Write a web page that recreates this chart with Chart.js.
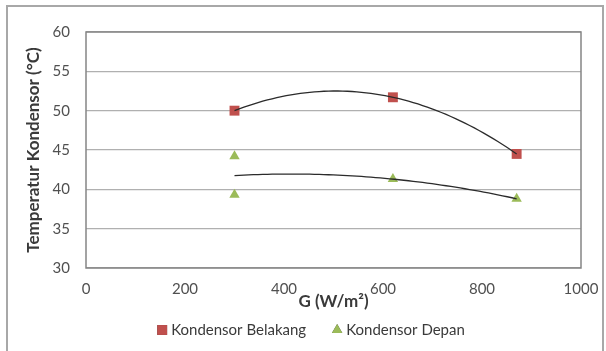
<!DOCTYPE html>
<html>
<head>
<meta charset="utf-8">
<script src="https://cdn.jsdelivr.net/npm/chart.js@4.4.1/dist/chart.umd.min.js"></script>
<style>
  html, body { margin: 0; padding: 0; background: #fff; }
  #wrap { width: 606px; height: 351px; position: relative; }
</style>
</head>
<body>
<div id="wrap"><canvas id="kondensorChart"></canvas></div>
<script>
// irradiance G (W/m2) and condenser temperatures (degC)
const gBelakang = [300, 620, 870];
const tBelakang = [50.0, 51.7, 44.5];
const gDepan = [300, 300, 620, 870];
const tDepan = [44.2, 39.3, 41.3, 38.8];

const yTicks = [30, 35, 40, 45, 50, 55, 60];
const xTicks = [0, 200, 400, 600, 800, 1000];

const FONT = "'Lato', 'Open Sans', sans-serif";
const TEXT = '#3a3a3a';

function toPoints(xs, ys) {
  return xs.map((x, i) => ({ x: x, y: ys[i] }));
}

// least squares fit y = a + b x + c x^2
function polyfit2(pts) {
  let s = [0, 0, 0, 0, 0], t = [0, 0, 0];
  pts.forEach(p => {
    for (let k = 0; k < 5; k++) s[k] += Math.pow(p.x, k);
    for (let k = 0; k < 3; k++) t[k] += p.y * Math.pow(p.x, k);
  });
  const m = [
    [s[0], s[1], s[2], t[0]],
    [s[1], s[2], s[3], t[1]],
    [s[2], s[3], s[4], t[2]]
  ];
  for (let i = 0; i < 3; i++) {
    for (let j = i + 1; j < 3; j++) {
      const f = m[j][i] / m[i][i];
      for (let k = i; k < 4; k++) m[j][k] -= f * m[i][k];
    }
  }
  const c = [0, 0, 0];
  for (let i = 2; i >= 0; i--) {
    let v = m[i][3];
    for (let k = i + 1; k < 3; k++) v -= m[i][k] * c[k];
    c[i] = v / m[i][i];
  }
  return c;
}

// polynomial trendline for each scatter dataset
const trendlines = {
  id: 'trendlines',
  afterDatasetsDraw(chart) {
    const ctx = chart.ctx;
    const xs = chart.scales.x, ys = chart.scales.y;
    ctx.save();
    ctx.strokeStyle = '#2b2b2b';
    ctx.lineWidth = 1.3;
    chart.data.datasets.forEach(ds => {
      const c = polyfit2(ds.data);
      const xv = ds.data.map(p => p.x);
      const x0 = Math.min(...xv), x1 = Math.max(...xv);
      ctx.beginPath();
      for (let i = 0; i <= 60; i++) {
        const x = x0 + (x1 - x0) * i / 60;
        const y = c[0] + c[1] * x + c[2] * x * x;
        const px = xs.getPixelForValue(x), py = ys.getPixelForValue(y);
        if (i === 0) ctx.moveTo(px, py); else ctx.lineTo(px, py);
      }
      ctx.stroke();
    });
    ctx.restore();
  }
};

// frame of the plot area and of the whole chart, plus the legend row
const frame = {
  id: 'frame',
  beforeDraw(chart) {
    const ctx = chart.ctx;
    ctx.save();
    ctx.fillStyle = '#fff';
    ctx.fillRect(0, 0, chart.width, chart.height);
    ctx.strokeStyle = '#a8a8a8';
    ctx.lineWidth = 2;
    ctx.strokeRect(7, 6, 596, 360);
    ctx.restore();
  },
  afterDraw(chart) {
    const ctx = chart.ctx;
    const a = chart.chartArea;
    ctx.save();
    ctx.strokeStyle = '#858585';
    ctx.lineWidth = 1.5;
    ctx.strokeRect(a.left, a.top, a.right - a.left, a.bottom - a.top);

    // legend
    ctx.font = '15px ' + FONT;
    ctx.textBaseline = 'middle';
    ctx.fillStyle = TEXT;
    const y = 330;
    const gap = 26;
    const widths = chart.data.datasets.map(ds => 10 + 4 + ctx.measureText(ds.label).width);
    const total = widths.reduce((s, w) => s + w, 0) + gap * (widths.length - 1);
    let x = 311 - total / 2;
    chart.data.datasets.forEach((ds, i) => {
      Chart.helpers.drawPoint(ctx, {
        pointStyle: ds.pointStyle, radius: ds.pointStyle === 'rect' ? 7 : 6,
        borderWidth: 0
      }, x + 5, y);
      ctx.fillStyle = ds.backgroundColor;
      ctx.fill();
      ctx.fillStyle = TEXT;
      ctx.fillText(ds.label, x + 14, y);
      x += widths[i] + gap;
    });
    ctx.restore();
  }
};

new Chart(document.getElementById('kondensorChart'), {
  type: 'scatter',
  data: {
    datasets: [
      {
        label: 'Kondensor Belakang',
        data: toPoints(gBelakang, tBelakang),
        pointStyle: 'rect',
        pointRadius: 7,
        backgroundColor: '#c0504d',
        borderColor: '#b5403d',
        borderWidth: 0
      },
      {
        label: 'Kondensor Depan',
        data: toPoints(gDepan, tDepan),
        pointStyle: 'triangle',
        pointRadius: 6,
        backgroundColor: '#9bbb59',
        borderColor: '#8aab48',
        borderWidth: 0
      }
    ]
  },
  options: {
    responsive: true,
    maintainAspectRatio: false,
    animation: false,
    layout: { padding: { left: 0, right: 25, top: 32, bottom: 39 } },
    plugins: {
      legend: { display: false },
      tooltip: { enabled: false }
    },
    scales: {
      x: {
        type: 'linear',
        min: 0,
        max: 1000,
        afterBuildTicks: s => { s.ticks = xTicks.map(v => ({ value: v })); },
        afterFit: s => {
          s.height = 44;
          s.paddingLeft = 0;
          s.paddingRight = 0;
        },
        grid: { display: false, drawTicks: false },
        border: { display: false },
        ticks: {
          padding: 12,
          color: '#505050',
          font: { family: FONT, size: 15 },
          callback: v => String(v)
        },
        title: {
          display: true,
          text: 'G (W/m²)',
          color: TEXT,
          padding: { top: 0, bottom: 0 },
          font: { family: FONT, size: 17, weight: 'bold' }
        }
      },
      y: {
        min: 30,
        max: 60,
        afterBuildTicks: s => { s.ticks = yTicks.map(v => ({ value: v })); },
        afterFit: s => { s.width = 86; },
        grid: { color: '#b0b0b0', lineWidth: 1.3, drawTicks: false },
        border: { display: false },
        ticks: { padding: 16, color: '#505050', font: { family: FONT, size: 15 } },
        title: {
          display: true,
          text: 'Temperatur Kondensor (°C)',
          color: TEXT,
          padding: { top: 23, bottom: 0 },
          font: { family: FONT, size: 17, weight: 'bold' }
        }
      }
    }
  },
  plugins: [frame, trendlines]
});
</script>
</body>
</html>
